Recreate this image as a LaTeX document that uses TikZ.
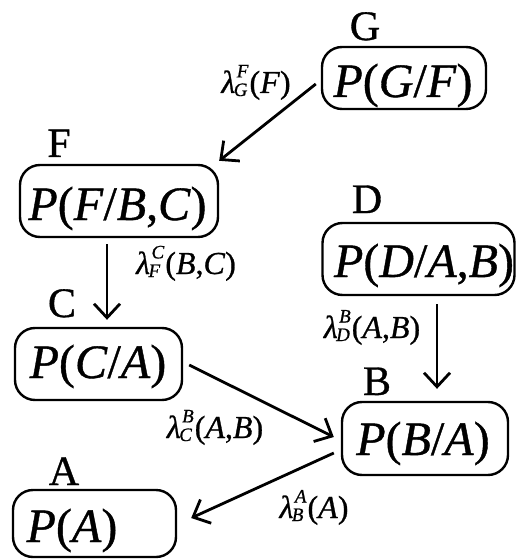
\documentclass[tikz,border=0pt]{standalone}
\usepackage{fontspec}
\setmainfont{Liberation Serif}[FakeBold=0.8]
\usetikzlibrary{arrows.meta}
\newcommand\sss{\fontsize{19}{19}\selectfont}
\newcommand\scr[2]{\lower3pt\vbox{\offinterlineskip\hbox{\kern3pt\sss\textit{#1}}\kern6pt\hbox{\sss\textit{#2}}}}
\newcommand\lamb[3]{\textit{λ}\kern-1.5pt\scr{#1}{#2}\kern1pt(#3)}
\newcommand\ii[1]{\textit{#1}}
\tikzset{
  pbox/.style={draw, line width=2.4pt, rounded corners=20pt, inner sep=0pt},
  ptext/.style={anchor=base, inner sep=0pt, font=\fontsize{48}{48}\selectfont},
  letter/.style={anchor=base, inner sep=0pt, font=\fontsize{42}{42}\selectfont},
  lab/.style={anchor=base, inner sep=0pt, font=\fontsize{32}{32}\selectfont},
  arr/.style={line width=2.8pt, -{Straight Barb[length=14pt,width=26pt,line width=2.8pt]}}
}
\begin{document}
\begin{tikzpicture}[x=1pt,y=-1pt]
\useasboundingbox (0,0) rectangle (516,559);
% boxes
\node[pbox, minimum width=164pt, minimum height=62pt] (G) at (404,78) {};
\node[pbox, minimum width=198pt, minimum height=72pt] (F) at (119,201) {};
\node[pbox, minimum width=192pt, minimum height=72pt] (D) at (418.5,259) {};
\node[pbox, minimum width=167pt, minimum height=72pt] (C) at (98.5,364) {};
\node[pbox, minimum width=166pt, minimum height=73pt] (B) at (425,438.5) {};
\node[pbox, minimum width=163pt, minimum height=67pt] (A) at (94.5,523.5) {};
% texts
\node[ptext] (Gt) at (403,97) {\ii{P}(\ii{G}/\ii{F})};
\node[ptext] (Ft) at (117.5,220) {\ii{P}(\ii{F}/\ii{B},\ii{C})};
\node[ptext] (Dt) at (424,277) {\ii{P}(\ii{D}/\ii{A},\ii{B})};
\node[ptext] (Ct) at (98,378) {\ii{P}(\ii{C}/\ii{A})};
\node[ptext] (Bt) at (423,455) {\ii{P}(\ii{B}/\ii{A})};
\node[ptext] (At) at (72,542) {\ii{P}(\ii{A})};
% letters
\node[letter] (Gl) at (365,40) {G};
\node[letter] (Fl) at (59,157) {F};
\node[letter] (Dl) at (367,213) {D};
\node[letter] (Cl) at (62,317) {C};
\node[letter] (Bl) at (377,395) {B};
\node[letter] (Al) at (64,485) {A};
% arrows
\draw[arr] ([shift={(-5,6)}]G.west) -- ([shift={(0,-3)}]F.north east);
\draw[arr] ([shift={(-12,6)}]F.south) -- ([shift={(8.5,-7)}]C.north);
\draw[arr] ([shift={(18.5,8)}]D.south) -- ([shift={(12,-12)}]B.north);
\draw[arr] ([shift={(6,1)}]C.east) -- ([shift={(-7,-1.5)}]B.west);
\draw[arr] ([shift={(-7,14.5)}]B.west) -- ([shift={(14,-5.5)}]A.east);
% labels
\node[lab] (l1) at (256,93) {\lamb{F}{G}{\ii{F}}};
\node[lab] (l2) at (186,274) {\lamb{C}{F}{\ii{B},\ii{C}}};
\node[lab] (l3) at (372,338) {\lamb{B}{D}{\ii{A},\ii{B}}};
\node[lab] (l4) at (215,438) {\lamb{B}{C}{\ii{A},\ii{B}}};
\node[lab] (l5) at (314,518) {\lamb{A}{B}{\ii{A}}};
\end{tikzpicture}
\end{document}
